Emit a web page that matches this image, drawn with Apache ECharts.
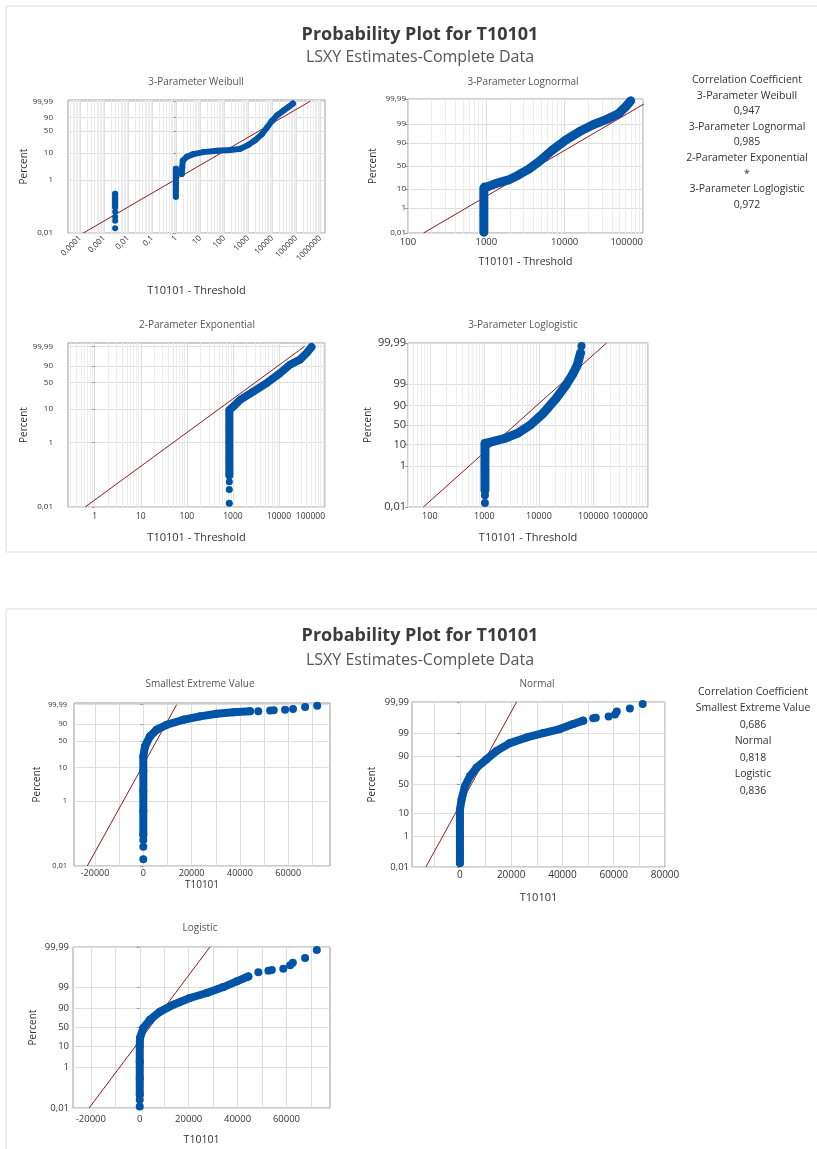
<!DOCTYPE html>
<html><head><meta charset="utf-8">
<script src="https://cdn.jsdelivr.net/npm/echarts@6/dist/echarts.min.js"></script>
<style>html,body{margin:0;padding:0;background:#fff}#c{width:817px;height:1149px}</style>
</head><body><div id="c"></div>
<script>
// ================= DATA =================
// probability-axis tick labels (percent)
const pctTicksWeibull     = [0.01, 1, 10, 50, 90, 99.99];
const pctTicksLognormal   = [0.01, 1, 10, 50, 90, 99, 99.99];
const pctTicksExponential = [0.01, 1, 10, 50, 90, 99.99];
const pctTicksLoglogistic = [0.01, 1, 10, 50, 90, 99, 99.99];
const pctTicksSEV         = [0.01, 1, 10, 50, 90, 99.99];
const pctTicksNormal      = [0.01, 1, 10, 50, 90, 99, 99.99];
const pctTicksLogistic    = [0.01, 1, 10, 50, 90, 99, 99.99];
// linear x tick labels
const xTicksSEV      = [-20000, 0, 20000, 40000, 60000];
const xTicksNormal   = [0, 20000, 40000, 60000, 80000];
const xTicksLogistic = [-20000, 0, 20000, 40000, 60000];

// correlation coefficients
const corrTop = [['3-Parameter Weibull', '0,947'], ['3-Parameter Lognormal', '0,985'],
                 ['2-Parameter Exponential', '*'], ['3-Parameter Loglogistic', '0,972']];
const corrBottom = [['Smallest Extreme Value', '0,686'], ['Normal', '0,818'], ['Logistic', '0,836']];

// [T10101 - Threshold (or T10101), percent]
const weibullDotsA = [[0.0029, 0.015], [0.0029, 0.029], [0.0029, 0.041], [0.0029, 0.063]];
const weibullBandA = [[0.0029, 0.095], [0.0029, 0.14], [0.0029, 0.2], [0.0029, 0.3]];
const weibullBandB = [[0.98, 0.23], [0.98, 0.4], [0.98, 0.7], [0.98, 1.2], [0.98, 1.8], [0.98, 2.6]];
const weibullBandC = [[1.73, 1.68], [1.8, 2.95], [1.9, 5.2], [2.8, 7.2], [5.3, 9.0], [13.8, 10.6], [49, 11.8],
  [178, 12.5], [465, 13.8], [1030, 19], [1950, 27], [3720, 41], [6000, 60.5], [9700, 81], [15800, 93.2],
  [29600, 98.4], [48000, 99.65], [73000, 99.95]];
const weibullFit = [[0.000138, 0.01], [380000, 99.99]];

const lognormalBand = [[930, 0.012], [930, 0.05], [930, 0.3], [930, 1.5], [930, 5], [930, 10.8], [951, 12.7],
  [1283, 16], [1920, 22], [2580, 31], [3480, 43], [4700, 59.5], [6950, 81], [10400, 92.6], [15500, 97.2],
  [23000, 98.9], [34500, 99.52], [49000, 99.82], [60000, 99.95], [69500, 99.985]];
const lognormalFit = [[158, 0.01], [132000, 99.99]];

const exponentialDots = [[836, 0.013], [836, 0.035], [836, 0.06]];
const exponentialBand = [[836, 0.096], [836, 0.3], [836, 1], [836, 3], [836, 9.5], [1020, 11.9], [1430, 18.5],
  [2770, 31], [5400, 49], [10500, 74.5], [17300, 91.7], [28600, 97.2], [40000, 99.68], [51000, 99.985]];
const exponentialFit = [[0.62, 0.01], [36000, 99.99]];

const loglogisticDots = [[1025, 0.0155], [1025, 0.037], [60300, 99.986]];
const loglogisticBand = [[1025, 0.065], [1025, 0.3], [1025, 1.5], [1025, 5], [1025, 11.2], [1350, 13], [2330, 18],
  [4020, 28], [6950, 50], [12000, 78.8], [20800, 95.3], [31500, 98.9], [41000, 99.64], [50500, 99.88], [58000, 99.97]];
const loglogisticFit = [[76, 0.01], [174000, 99.99]];

const sevDots = [[0, 0.016], [0, 0.039], [0, 0.063], [47600, 99.68], [52500, 99.78], [54000, 99.79],
  [58700, 99.84], [62000, 99.89], [67000, 99.96], [72000, 99.98]];
const sevBand = [[0, 0.09], [0, 0.5], [0, 2], [0, 8], [0, 21], [700, 38], [2770, 62.3], [5550, 79], [9700, 89],
  [16600, 95.7], [23500, 98.2], [30400, 99.2], [37300, 99.53], [44200, 99.68]];
const sevFit = [[-23200, 0.01], [13800, 99.99]];

const normalDots = [[52000, 99.86], [53000, 99.87], [58000, 99.89], [60500, 99.92], [61200, 99.95],
  [66300, 99.97], [71300, 99.986]];
const normalBand = [[0, 0.02], [0, 0.1], [0, 1], [0, 5], [0, 12.7], [650, 25], [1950, 47], [3900, 64.6],
  [6500, 77.6], [10400, 87.2], [14300, 93.5], [19500, 96.9], [26000, 98.3], [32500, 98.98], [39000, 99.38],
  [44200, 99.68], [48100, 99.8]];
const normalFit = [[-13300, 0.01], [22100, 99.99]];

const logisticDots = [[0, 0.012], [0, 0.026], [48500, 99.82], [52600, 99.85], [54000, 99.86], [58700, 99.88],
  [61500, 99.92], [62600, 99.94], [67600, 99.965], [72400, 99.986]];
const logisticBand = [[0, 0.046], [0, 0.3], [0, 2], [0, 10.3], [100, 23], [1450, 48.5], [4200, 71], [8300, 86],
  [13700, 93.1], [20500, 96.7], [27400, 98.1], [34200, 99.03], [39600, 99.49], [44400, 99.71]];
const logisticFit = [[-20700, 0.01], [28700, 99.99]];

// ================= helpers =================
function probit(p) {
  const a = [-3.969683028665376e+01, 2.209460984245205e+02, -2.759285104469687e+02, 1.383577518672690e+02, -3.066479806614716e+01, 2.506628277459239e+00];
  const b = [-5.447609879822406e+01, 1.615858368580409e+02, -1.556989798598866e+02, 6.680131188771972e+01, -1.328068155288572e+01];
  const c = [-7.784894002430293e-03, -3.223964580411365e-01, -2.400758277161838e+00, -2.549732539343734e+00, 4.374664141464968e+00, 2.938163982698783e+00];
  const d = [7.784695709041462e-03, 3.224671290700398e-01, 2.445134137142996e+00, 3.754408661907416e+00];
  const pl = 0.02425; let q, r;
  if (p < pl) { q = Math.sqrt(-2 * Math.log(p)); return (((((c[0]*q+c[1])*q+c[2])*q+c[3])*q+c[4])*q+c[5]) / ((((d[0]*q+d[1])*q+d[2])*q+d[3])*q+1); }
  if (p <= 1 - pl) { q = p - 0.5; r = q*q; return (((((a[0]*r+a[1])*r+a[2])*r+a[3])*r+a[4])*r+a[5])*q / (((((b[0]*r+b[1])*r+b[2])*r+b[3])*r+b[4])*r+1); }
  q = Math.sqrt(-2 * Math.log(1 - p)); return -(((((c[0]*q+c[1])*q+c[2])*q+c[3])*q+c[4])*q+c[5]) / ((((d[0]*q+d[1])*q+d[2])*q+d[3])*q+1);
}
const TRANS = {
  sev: p => Math.log10(-Math.log(1 - p / 100)),
  normal: p => probit(p / 100),
  logistic: p => Math.log((p / 100) / (1 - p / 100))
};
const pctText = p => String(p).replace('.', ',');
const decText = v => v < 0 ? '0,' + '0'.repeat(-v - 1) + '1' : '1' + '0'.repeat(v);

const BLUE = '#0054a6', RED = '#8e1b1b', FONT = '"Open Sans", "Noto Sans", sans-serif', TXT = '#333';
const GRID_MAJOR = '#dedede', GRID_MINOR = '#ececec';

// ================= layout / styles =================
const plots = [
  { title: '3-Parameter Weibull', tx: 196, ty: 82, trans: 'sev', yTicks: pctTicksWeibull, yPad: 0.05,
    grid: { left: 68, top: 100, width: 257, height: 133 }, log: true, xMin: -4.5, xMax: 6.2,
    xRotate: 45, xFont: 8, xMargin: 4, yFont: 8, yMargin: 15, yNameGap: 32, xName: 'T10101 - Threshold', xNameGap: 52, xNameFont: 11,
    sym: 6, lw: 6, bands: [weibullBandA, weibullBandB, weibullBandC], dots: weibullDotsA, fit: weibullFit },
  { title: '3-Parameter Lognormal', tx: 523, ty: 82, trans: 'normal', yTicks: pctTicksLognormal, yPad: 0,
    grid: { left: 408, top: 99, width: 235, height: 134 }, log: true, xMin: 2, xMax: 5, alignMax: true,
    xFont: 9.5, xMargin: 4, yFont: 8, yMargin: 2, yNameGap: 30, xName: 'T10101 - Threshold', xNameGap: 24, xNameFont: 10.5,
    sym: 8, lw: 9, bands: [lognormalBand], dots: [], fit: lognormalFit },
  { title: '2-Parameter Exponential', tx: 197, ty: 325, trans: 'sev', yTicks: pctTicksExponential, yPad: 0.105,
    grid: { left: 68, top: 343, width: 257, height: 164 }, log: true, xMin: -0.58, xMax: 5, alignMax: true,
    xFont: 8.5, xMargin: 5, yFont: 8, yMargin: 15, yNameGap: 30, xName: 'T10101 - Threshold', xNameGap: 25, xNameFont: 11,
    sym: 7, lw: 8, bands: [exponentialBand], dots: exponentialDots, fit: exponentialFit },
  { title: '3-Parameter Loglogistic', tx: 523, ty: 325, trans: 'logistic', yTicks: pctTicksLoglogistic, yPad: 0,
    grid: { left: 408, top: 343, width: 240, height: 164 }, log: true, xMin: 1.6, xMax: 6, alignMax: true,
    xFont: 9, xMargin: 5, yFont: 11, yMargin: 2, yNameGap: 35, xName: 'T10101 - Threshold', xNameGap: 25, xNameFont: 11,
    sym: 8, lw: 9, bands: [loglogisticBand], dots: loglogisticDots, fit: loglogisticFit },
  { title: 'Smallest Extreme Value', tx: 200, ty: 684, trans: 'sev', yTicks: pctTicksSEV, yPad: 0.05,
    grid: { left: 74, top: 703, width: 256, height: 163 }, log: false, xMin: -28700, xMax: 77300, xLabels: xTicksSEV,
    xFont: 9, xMargin: 3, yFont: 7.5, yMargin: 7, yNameGap: 32, xName: 'T10101', xNameGap: 14, xNameFont: 10,
    sym: 8, lw: 8, bands: [sevBand], dots: sevDots, fit: sevFit },
  { title: 'Normal', tx: 537, ty: 684, trans: 'normal', yTicks: pctTicksNormal, yPad: 0,
    grid: { left: 412, top: 702, width: 253, height: 165 }, log: false, xMin: -18700, xMax: 80000, xLabels: xTicksNormal,
    xFont: 10, xMargin: 3, yFont: 9.5, yMargin: 3, yNameGap: 35, xName: 'T10101', xNameGap: 25, xNameFont: 11,
    sym: 8, lw: 8, bands: [normalBand], dots: normalDots, fit: normalFit },
  { title: 'Logistic', tx: 200, ty: 928, trans: 'logistic', yTicks: pctTicksLogistic, yPad: 0,
    grid: { left: 73, top: 947, width: 257, height: 161 }, log: false, xMin: -27300, xMax: 77800, xLabels: xTicksLogistic,
    xFont: 9.5, xMargin: 6, yFont: 9.5, yMargin: 4, yNameGap: 35, xName: 'T10101', xNameGap: 27, xNameFont: 10.5,
    sym: 8, lw: 8, bands: [logisticBand], dots: logisticDots, fit: logisticFit }
];

// ================= build option =================
const grids = [], xAxes = [], yAxes = [], series = [];
const graphics = [
  { type: 'rect', shape: { x: 6, y: 6, width: 830, height: 546 }, style: { fill: '#fff', stroke: '#dcdcdc', lineWidth: 1 }, silent: true, z: -10 },
  { type: 'rect', shape: { x: 6, y: 609, width: 830, height: 560 }, style: { fill: '#fff', stroke: '#dcdcdc', lineWidth: 1 }, silent: true, z: -10 }
];
function txt(text, x, y, font, fill) {
  return { type: 'text', x, y, silent: true, z: 10,
    style: { text, font, fill, textAlign: 'center', textVerticalAlign: 'middle', align: 'center', verticalAlign: 'middle' } };
}
graphics.push(txt('Probability Plot for T10101', 420, 35, 'bold 18px ' + FONT, '#3c3c3c'));
graphics.push(txt('LSXY Estimates-Complete Data', 420, 57, '16px ' + FONT, '#555'));
graphics.push(txt('Probability Plot for T10101', 420, 636, 'bold 18px ' + FONT, '#3c3c3c'));
graphics.push(txt('LSXY Estimates-Complete Data', 420, 660, '16px ' + FONT, '#555'));

graphics.push(txt('Correlation Coefficient', 747, 80, '10.5px ' + FONT, TXT));
corrTop.forEach((c, i) => {
  graphics.push(txt(c[0], 747, 95.6 + i * 31.2, '10.5px ' + FONT, TXT));
  graphics.push(txt(c[1], 747, 111.2 + i * 31.2, '10.5px ' + FONT, TXT));
});
graphics.push(txt('Correlation Coefficient', 753, 692, '10.5px ' + FONT, TXT));
corrBottom.forEach((c, i) => {
  graphics.push(txt(c[0], 753, 708.5 + i * 33, '10.5px ' + FONT, TXT));
  graphics.push(txt(c[1], 753, 725 + i * 33, '10.5px ' + FONT, TXT));
});

plots.forEach((pl, i) => {
  const T = TRANS[pl.trans];
  const yMin = T(0.01), yMax = T(99.99) + pl.yPad;
  const yT = pl.yTicks.map(T);
  const X = pl.log ? (v => Math.log10(v)) : (v => v);
  graphics.push(txt(pl.title, pl.tx, pl.ty, '10px ' + FONT, '#555'));
  grids.push(Object.assign({ show: true, borderColor: '#9c9c9c', borderWidth: 1, backgroundColor: '#fff', containLabel: false }, pl.grid));

  let xLabelVals, xMinorVals, xFmt;
  xMinorVals = [];
  if (pl.log) {
    xLabelVals = [];
    for (let d = Math.floor(pl.xMin) - 1; d <= Math.ceil(pl.xMax); d++) {
      if (d >= pl.xMin - 1e-9 && d <= pl.xMax + 1e-9) xLabelVals.push(d);
      for (let k = 2; k <= 9; k++) {
        const v = d + Math.log10(k);
        if (v >= pl.xMin - 1e-9 && v <= pl.xMax + 1e-9) xMinorVals.push(v);
      }
    }
    xFmt = v => decText(Math.round(v));
  } else {
    xLabelVals = pl.xLabels;
    for (let v = -30000; v <= 80000; v += 20000) if (v >= pl.xMin && v <= pl.xMax) xMinorVals.push(v);
    xFmt = v => String(Math.round(v));
  }
  const majorIdx = xAxes.length;
  // minor vertical grid lines (unlabelled axis sharing the same scale range)
  xAxes.push({
    type: 'value', gridIndex: i, min: pl.xMin, max: pl.xMax, position: 'bottom', offset: 0,
    axisLine: { show: false }, axisLabel: { show: false },
    axisTick: { show: false, customValues: xMinorVals },
    splitLine: { show: true, lineStyle: { color: pl.log ? GRID_MINOR : GRID_MAJOR, width: 1 } }
  });
  xAxes.push({
    type: 'value', gridIndex: i, min: pl.xMin, max: pl.xMax, position: 'bottom', offset: 0,
    name: pl.xName, nameLocation: 'middle', nameGap: pl.xNameGap,
    nameTextStyle: { fontFamily: FONT, fontSize: pl.xNameFont, color: TXT },
    axisLine: { show: false },
    axisTick: { show: false, customValues: xLabelVals },
    axisLabel: { customValues: xLabelVals, formatter: xFmt, fontFamily: FONT, fontSize: pl.xFont, color: TXT,
      margin: pl.xMargin, rotate: pl.xRotate || 0, alignMaxLabel: pl.alignMax ? 'right' : null, hideOverlap: false },
    splitLine: { show: true, lineStyle: { color: GRID_MAJOR, width: 1 } }
  });
  const xi = majorIdx + 1;
  yAxes.push({
    type: 'value', gridIndex: i, min: yMin, max: yMax, position: 'left',
    name: 'Percent', nameLocation: 'middle', nameGap: pl.yNameGap, nameRotate: 90,
    nameTextStyle: { fontFamily: FONT, fontSize: 10, color: TXT },
    axisLine: { show: false },
    axisTick: { show: true, customValues: yT, length: 3, lineStyle: { color: '#9c9c9c' } },
    axisLabel: { customValues: yT, fontFamily: FONT, fontSize: pl.yFont, color: TXT, margin: pl.yMargin,
      formatter: v => { let bi = 0; yT.forEach((t, k) => { if (Math.abs(t - v) < Math.abs(yT[bi] - v)) bi = k; }); return pctText(pl.yTicks[bi]); } },
    splitLine: { show: true, lineStyle: { color: GRID_MAJOR, width: 1 } }
  });
  const map = arr => arr.map(d => [X(d[0]), T(d[1])]);
  series.push({ type: 'line', xAxisIndex: xi, yAxisIndex: i, data: map(pl.fit), symbol: 'none', silent: true,
    lineStyle: { color: RED, width: 1 }, z: 2, animation: false });
  pl.bands.forEach(b => series.push({ type: 'line', xAxisIndex: xi, yAxisIndex: i, data: map(b), symbol: 'circle',
    symbolSize: pl.sym, showSymbol: true, silent: true, itemStyle: { color: BLUE },
    lineStyle: { color: BLUE, width: pl.lw, cap: 'round', join: 'round' }, z: 3, animation: false }));
  if (pl.dots.length) series.push({ type: 'scatter', xAxisIndex: xi, yAxisIndex: i, data: map(pl.dots), symbol: 'circle',
    symbolSize: pl.sym, silent: true, itemStyle: { color: BLUE, opacity: 1 }, z: 3, animation: false });
});

const chart = echarts.init(document.getElementById('c'), null, { renderer: 'canvas' });
chart.setOption({
  backgroundColor: '#fff', animation: false,
  grid: grids, xAxis: xAxes, yAxis: yAxes, series: series,
  graphic: { elements: graphics }
});
</script></body></html>
